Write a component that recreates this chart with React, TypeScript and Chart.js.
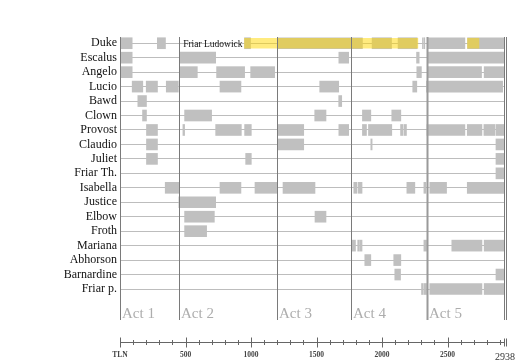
import React, { useEffect, useRef } from 'react';
import { Chart, registerables } from 'chart.js';

Chart.register(...registerables);

// ---------- data ----------
const characters = ['Duke', 'Escalus', 'Angelo', 'Lucio', 'Bawd', 'Clown', 'Provost', 'Claudio', 'Juliet', 'Friar Th.', 'Isabella', 'Justice', 'Elbow', 'Froth', 'Mariana', 'Abhorson', 'Barnardine', 'Friar p.'];

const duke = [[0, 93], [285, 347], [950, 996], [1201, 1850], [1924, 2072], [2122, 2268], [2308, 2314], [2320, 2326], [2347, 2632], [2652, 2932]];
const escalus = [[0, 93], [455, 730], [1670, 1745], [2263, 2283], [2347, 2932]];
const angelo = [[0, 93], [455, 590], [737, 951], [997, 1180], [2265, 2300], [2347, 2759], [2779, 2932]];
const lucio = [[93, 174], [200, 286], [353, 445], [763, 923], [1524, 1669], [2234, 2265], [2339, 2920]];
const bawd = [[136, 202], [1669, 1692]];
const clown = [[172, 202], [493, 699], [1486, 1572], [1850, 1914], [2074, 2143]];
const provost = [[202, 286], [480, 493], [730, 926], [951, 1002], [1201, 1402], [1670, 1745], [1850, 1881], [1896, 2074], [2141, 2160], [2168, 2186], [2342, 2632], [2650, 2762], [2777, 2861], [2869, 2932]];
const claudio = [[202, 286], [1201, 1402], [1914, 1924], [2869, 2932]];
const juliet = [[202, 286], [959, 1002], [2869, 2932]];
const friarThomas = [[2869, 2932]];
const isabella = [[345, 449], [763, 923], [1030, 1198], [1244, 1488], [1784, 1809], [1819, 1847], [2189, 2250], [2319, 2334], [2364, 2492], [2650, 2932]];
const justice = [[449, 730]];
const elbow = [[493, 720], [1488, 1572]];
const froth = [[493, 661]];
const mariana = [[1766, 1797], [1814, 1827], [1832, 1847], [2319, 2339], [2532, 2762], [2779, 2932]];
const abhorson = [[1868, 1914], [2089, 2143]];
const barnardine = [[2097, 2141], [2869, 2932]];
const friarPeter = [[2301, 2313], [2319, 2339], [2364, 2762], [2779, 2932]];

const scenes = [duke, escalus, angelo, lucio, bawd, clown, provost, claudio, juliet, friarThomas, isabella, justice, elbow, froth, mariana, abhorson, barnardine, friarPeter];

// Duke disguised as Friar Lodowick
const disguiseLabel = 'Friar Ludowick';
const disguise = [[950, 2273], [2652, 2739]];

const actStarts = [0, 449, 1201, 1766, 2339];
const actLabels = ['Act 1', 'Act 2', 'Act 3', 'Act 4', 'Act 5'];

const tlnMax = 2938;
const tickValues = [0, 500, 1000, 1500, 2000, 2500, 2938];
const tickLabels = ['TLN', '500', '1000', '1500', '2000', '2500', '2938'];
const minorStep = 100;

const SERIF = '"Liberation Serif", "DejaVu Serif", serif';

const overlay = {
  id: 'overlay',
  afterDatasetsDraw(chart: any) {
    const { ctx, scales, chartArea } = chart;
    const x = scales.x;
    const y = scales.y;
    ctx.save();
    const top = chartArea.top + 1;
    const lineBottom = 320;
    // act lines + labels
    actStarts.forEach((v, i) => {
      const px = Math.round(x.getPixelForValue(v)) + 0.5;
      ctx.beginPath();
      ctx.strokeStyle = i === 4 ? '#9a9a9a' : '#7a7a7a';
      ctx.lineWidth = i === 4 ? 2 : 1;
      ctx.moveTo(px, top);
      ctx.lineTo(px, lineBottom);
      ctx.stroke();
      ctx.fillStyle = '#adadad';
      ctx.font = '15px ' + SERIF;
      ctx.textBaseline = 'alphabetic';
      ctx.textAlign = 'left';
      ctx.fillText(actLabels[i], px + 1.5, 318);
    });
    // end double line
    const pe = Math.round(x.getPixelForValue(tlnMax));
    ctx.strokeStyle = '#7a7a7a';
    ctx.lineWidth = 1;
    [pe - 0.5, pe + 1.5].forEach((p) => {
      ctx.beginPath();
      ctx.moveTo(p, top);
      ctx.lineTo(p, lineBottom);
      ctx.stroke();
    });
    // disguise label
    const ly = y.getPixelForValue(0);
    ctx.fillStyle = '#111';
    ctx.font = '9.5px ' + SERIF;
    ctx.textAlign = 'right';
    ctx.textBaseline = 'middle';
    ctx.fillText(disguiseLabel, x.getPixelForValue(disguise[0][0]) - 2, ly + 1);
    // bottom TLN axis
    const ay = Math.round(chartArea.bottom) + 0.5;
    const x0 = x.getPixelForValue(0);
    ctx.strokeStyle = '#666';
    ctx.lineWidth = 1;
    ctx.beginPath();
    ctx.moveTo(x0, ay);
    ctx.lineTo(pe, ay);
    ctx.stroke();
    for (let v = 0; v < tlnMax; v += minorStep) {
      const px = Math.round(x.getPixelForValue(v)) + 0.5;
      const major = v % 500 === 0;
      const h = major ? 5 : 2.5;
      ctx.beginPath();
      ctx.moveTo(px, ay - h);
      ctx.lineTo(px, ay + h);
      ctx.stroke();
    }
    [pe - 0.5, pe + 1.5].forEach((p) => {
      ctx.beginPath();
      ctx.moveTo(p, ay - 4);
      ctx.lineTo(p, ay + 4);
      ctx.stroke();
    });
    ctx.restore();
  },
};

export default function App() {
  const ref = useRef<HTMLCanvasElement | null>(null);
  useEffect(() => {
    if (!ref.current) return;
    const gray: any[] = [];
    scenes.forEach((segs, row) => segs.forEach((s) => gray.push({ x: s, y: row })));
    const yellow = disguise.map((s) => ({ x: s, y: 0 }));
    const lastRow = characters.length - 1;
    const chart = new Chart(ref.current, {
      type: 'bar',
      data: {
        datasets: [
          {
            data: yellow as any,
            backgroundColor: 'rgba(255,215,0,0.5)',
            borderWidth: 0,
            barThickness: 10,
            grouped: false,
          } as any,
          {
            data: gray as any,
            backgroundColor: '#c0c0c0',
            borderWidth: 0,
            barThickness: 11,
            grouped: false,
          } as any,
        ],
      },
      plugins: [overlay],
      options: {
        indexAxis: 'y',
        animation: false,
        responsive: false,
        devicePixelRatio: 1,
        layout: { padding: { top: 36, right: 23, left: 0, bottom: 0 } },
        plugins: { legend: { display: false }, tooltip: { enabled: false } },
        scales: {
          y: {
            type: 'linear',
            reverse: true,
            offset: false,
            min: -0.5,
            max: lastRow + 3.666,
            afterBuildTicks: (s: any) => {
              s.ticks = characters.map((_, i) => ({ value: i }));
            },
            afterFit: (s: any) => {
              s.width = 120;
            },
            border: { display: false },
            grid: { color: '#bdbdbd', drawTicks: false, lineWidth: 1, offset: false },
            ticks: {
              padding: 3,
              color: '#111',
              font: { family: SERIF, size: 12 },
              callback: (v: any) => characters[v as number] ?? '',
            },
          },
          x: {
            type: 'linear',
            min: 0,
            max: tlnMax,
            afterBuildTicks: (s: any) => {
              s.ticks = tickValues.map((v) => ({ value: v }));
            },
            afterFit: (s: any) => {
              s.height = 19;
            },
            border: { display: false },
            grid: { display: false, drawTicks: false },
            ticks: {
              autoSkip: false,
              maxRotation: 0,
              padding: 9,
              color: (c: any) => (c.index === tickValues.length - 1 ? '#333' : '#444'),
              font: (c: any) =>
                c.index === tickValues.length - 1
                  ? { family: SERIF, size: 10 }
                  : { family: SERIF, size: 7.5, weight: 'bold' },
              callback: (_v: any, i: number) => tickLabels[i],
            },
          },
        },
      } as any,
    });
    return () => chart.destroy();
  }, []);
  return (
    <canvas
      ref={ref}
      width={528}
      height={361}
      style={{ position: 'fixed', left: 0, top: 0, width: 528, height: 361 }}
    />
  );
}
